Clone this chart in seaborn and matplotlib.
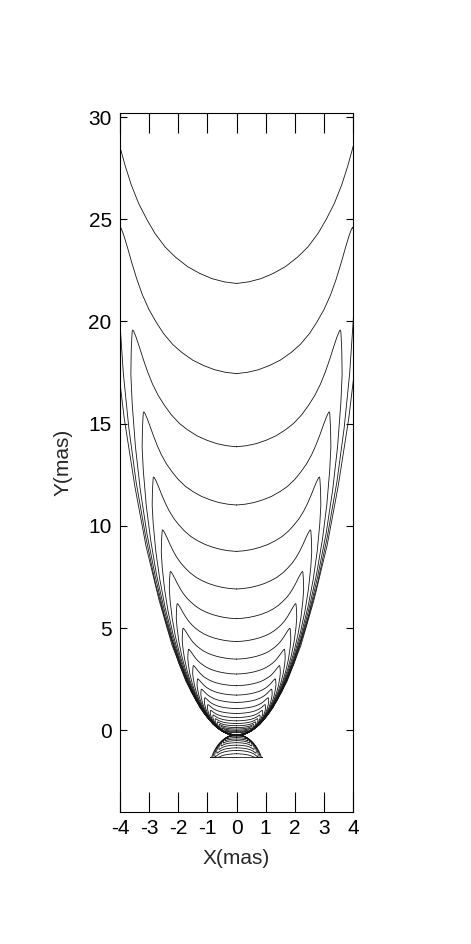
import numpy as np
import pandas as pd
import seaborn as sns
import matplotlib
matplotlib.use("Agg")
import matplotlib.pyplot as plt

# left half of the contour that crosses the axis at y = 11.02,
# from the axis out to the limb finger and back down the outer edge to the core
tmpl_x = [0.00, -0.30, -0.60, -0.90, -1.20, -1.50, -1.75, -2.00, -2.20, -2.40,
          -2.58, -2.73, -2.86, -2.98, -3.08, -3.15, -3.18, -3.20, -3.21, -3.23,
          -3.24, -3.20, -3.10, -2.95, -2.75, -2.49, -2.22, -1.90, -1.58, -1.24,
          -0.89, -0.58, -0.33, 0.00]
tmpl_y = [11.02, 11.06, 11.14, 11.27, 11.44, 11.68, 11.93, 12.27, 12.62, 13.02,
          13.48, 13.96, 14.44, 14.92, 15.30, 15.52, 15.58, 15.52, 15.30, 14.74,
          13.84, 12.71, 11.02, 9.33, 7.64, 5.95, 4.48, 3.13, 2.00, 1.10,
          0.43, 0.03, -0.16, -0.25]
tmpl_centre = 11.02
jet_base = -0.25

# where each jet contour crosses x = 0
jet_centres = [21.86, 17.45, 13.87, 11.02, 8.75, 6.91, 5.46, 4.34, 3.48, 2.75,
               2.18, 1.72, 1.36, 1.06, 0.82, 0.62, 0.46, 0.33, 0.22, 0.13,
               0.06, 0.00, -0.05, -0.09, -0.12]

# counter-jet fan below the core (narrower than the jet)
cjet_apex = -0.22
cjet_centres = [-0.29, -0.36, -0.43, -0.51, -0.61, -0.73, -0.86, -0.99, -1.15, -1.33]
cjet_floor = -1.33
cjet_width = 0.88

tx = np.array(tmpl_x)
ty = np.array(tmpl_y)


def loop(centre, base, sign, width=1.0):
    ratio = abs(centre - base) / (tmpl_centre - jet_base)
    hx = tx * np.sqrt(ratio) * width
    hy = base + sign * (ty - jet_base) * ratio
    xs = np.concatenate([hx, -hx[::-1][1:]])
    ys = np.concatenate([hy, hy[::-1][1:]])
    return xs, ys


rows = []
cid = 0
for c in jet_centres:
    xs, ys = loop(c, jet_base, 1)
    rows.append(pd.DataFrame({"x": xs, "y": ys, "cid": cid}))
    cid += 1
for c in cjet_centres:
    xs, ys = loop(c, cjet_apex, -1, cjet_width)
    ys = np.maximum(ys, cjet_floor)
    rows.append(pd.DataFrame({"x": xs, "y": ys, "cid": cid}))
    cid += 1
df = pd.concat(rows, ignore_index=True)

sns.set_style("ticks")
plt.rcParams["font.family"] = ["Liberation Sans", "DejaVu Sans"]
plt.rcParams["axes.unicode_minus"] = False

fig = plt.figure(figsize=(4.71, 9.44), dpi=100)
ax = fig.add_axes([120 / 471, 1 - 812 / 944, 233 / 471, 699 / 944])

sns.lineplot(data=df, x="x", y="y", units="cid", estimator=None, sort=False,
             color="#151515", linewidth=0.6, legend=False, ax=ax)

ax.set_xlim(-4, 4)
ax.set_ylim(-4, 30.2)
ax.set_xticks(range(-4, 5))
ax.set_yticks(range(0, 31, 5))
ax.tick_params(axis="x", direction="in", length=14.5, width=0.8, top=True,
               bottom=True, labelsize=15, pad=5, colors="black")
ax.tick_params(axis="y", direction="in", length=5, width=0.8, left=True,
               right=True, labelsize=15, pad=6, colors="black")
for s in ax.spines.values():
    s.set_linewidth(0.8)
    s.set_color("black")
ax.set_xlabel("X(mas)", fontsize=15, labelpad=8)
ax.set_ylabel("Y(mas)", fontsize=15, labelpad=11)

fig.savefig("out.png", dpi=100)
